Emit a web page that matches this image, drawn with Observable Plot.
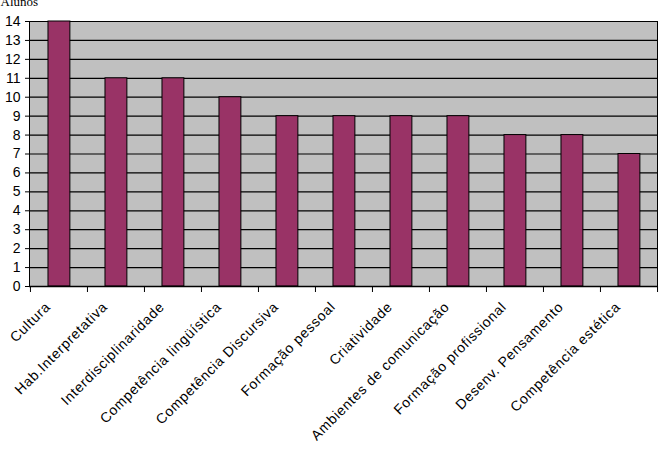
<!DOCTYPE html>
<html>
<head>
<meta charset="utf-8">
<script src="https://cdn.jsdelivr.net/npm/d3@7"></script>
<script src="https://cdn.jsdelivr.net/npm/@observablehq/plot@0.6"></script>
<style>
  html, body { margin: 0; padding: 0; background: #fff; }
  #chart svg { display: block; }
  .xlabels text { letter-spacing: 0.7px; }
</style>
</head>
<body>
<div id="chart"></div>
<script>
const categories = ["Cultura", "Hab.Interpretativa", "Interdisciplinaridade", "Competência lingüística",
  "Competência Discursiva", "Formação pessoal", "Criatividade", "Ambientes de comunicação",
  "Formação profissional", "Desenv. Pensamento", "Competência estética"];
const values = [14, 11, 11, 10, 9, 9, 9, 9, 8, 8, 7];
const yTicks = d3.range(0, 15);
const yLabel = "Alunos";

const data = categories.map((c, i) => ({category: c, value: values[i]}));
const W = 664, H = 473;
const mL = 29, mR = 7, mT = 21, mB = 187;
const step = (W - mL - mR) / categories.length;
const font = "Liberation Sans, Arial, sans-serif";

const chart = Plot.plot({
  width: W, height: H,
  marginLeft: mL, marginRight: mR, marginTop: mT, marginBottom: mB,
  style: {background: "#fff", fontFamily: font},
  x: {domain: categories, padding: 0, label: null},
  y: {domain: [0, 14], label: null},
  marks: [
    Plot.frame({fill: "#c0c0c0", stroke: "#000"}),
    Plot.ruleY(yTicks, {stroke: "#000", strokeWidth: 1.2}),
    Plot.barY(data, {x: "category", y: "value", fill: "#993366", stroke: "#000", strokeWidth: 1,
      insetLeft: step * 0.315, insetRight: step * 0.30}),
    Plot.axisY({ticks: yTicks, tickSize: 4, tickPadding: 5, fontSize: 14, fontFamily: font, stroke: "#000", label: null}),
    Plot.axisX({tickSize: 6, dx: -step / 2, tickFormat: () => "", stroke: "#000", label: null}),
    Plot.axisX({ticks: [categories[categories.length - 1]], tickSize: 6, dx: step / 2, tickFormat: () => "", stroke: "#000", label: null}),
    Plot.axisX({tickSize: 0, tickRotate: -45, tickPadding: 18, dx: -11, fontSize: 14, fontFamily: font, textAnchor: "end", label: null, className: "xlabels"}),
    Plot.ruleY([0], {stroke: "#000", strokeWidth: 1.5}),
    Plot.text([yLabel], {frameAnchor: "top-left", dx: -29, dy: -16, textAnchor: "start", lineAnchor: "bottom",
      fontFamily: "Liberation Serif, Times New Roman, serif", fontSize: 13, fill: "#000"})
  ]
});
document.getElementById("chart").appendChild(chart);
</script>
</body>
</html>
